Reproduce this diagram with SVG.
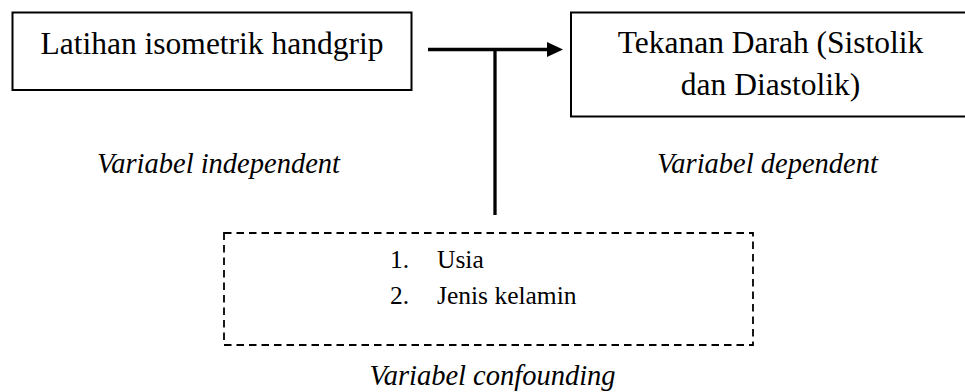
<svg xmlns="http://www.w3.org/2000/svg" width="965" height="392" viewBox="0 0 965 392">
<style>
.box{fill:#fff;stroke:#000;stroke-width:2}
.dash{fill:none;stroke:#000;stroke-width:1.8;stroke-dasharray:7.5 5}
.t{font-family:"Liberation Serif","Times New Roman",serif;fill:#000}
.big{font-size:31.5px}
.lab{font-size:28.5px;font-style:italic}
.lst{font-size:25.5px}
.ln{stroke:#000;stroke-width:3.3;fill:none}
</style>
<defs>
<marker id="ah" markerWidth="16" markerHeight="16" refX="0" refY="7.5" orient="auto" markerUnits="userSpaceOnUse">
<path d="M0,0 L16,7.5 L0,15 Z" fill="#000"/>
</marker>
</defs>
<g id="connectors">
<line class="ln" x1="428" y1="49.5" x2="547" y2="49.5" marker-end="url(#ah)"/>
<line class="ln" x1="495" y1="49.5" x2="495" y2="215"/>
</g>
<g id="independent">
<rect class="box" x="12.5" y="12.5" width="399" height="77.5"/>
<text class="t big" x="212" y="53.5" text-anchor="middle">Latihan isometrik handgrip</text>
</g>
<g id="dependent">
<rect class="box" x="571" y="12.5" width="400" height="104"/>
<text class="t big" x="770.5" y="53" text-anchor="middle">Tekanan Darah (Sistolik</text>
<text class="t big" x="770.5" y="95" text-anchor="middle">dan Diastolik)</text>
</g>
<g id="confounding">
<rect class="dash" x="224" y="233" width="529" height="112"/>
<text class="t lst" x="390" y="267.5">1.</text>
<text class="t lst" x="437" y="267.5">Usia</text>
<text class="t lst" x="390" y="304">2.</text>
<text class="t lst" x="437" y="304">Jenis kelamin</text>
</g>
<g id="labels">
<text class="t lab" x="218.5" y="173" text-anchor="middle">Variabel independent</text>
<text class="t lab" x="767.5" y="173" text-anchor="middle">Variabel dependent</text>
<text class="t lab" x="492.5" y="385" text-anchor="middle">Variabel confounding</text>
</g>
</svg>
